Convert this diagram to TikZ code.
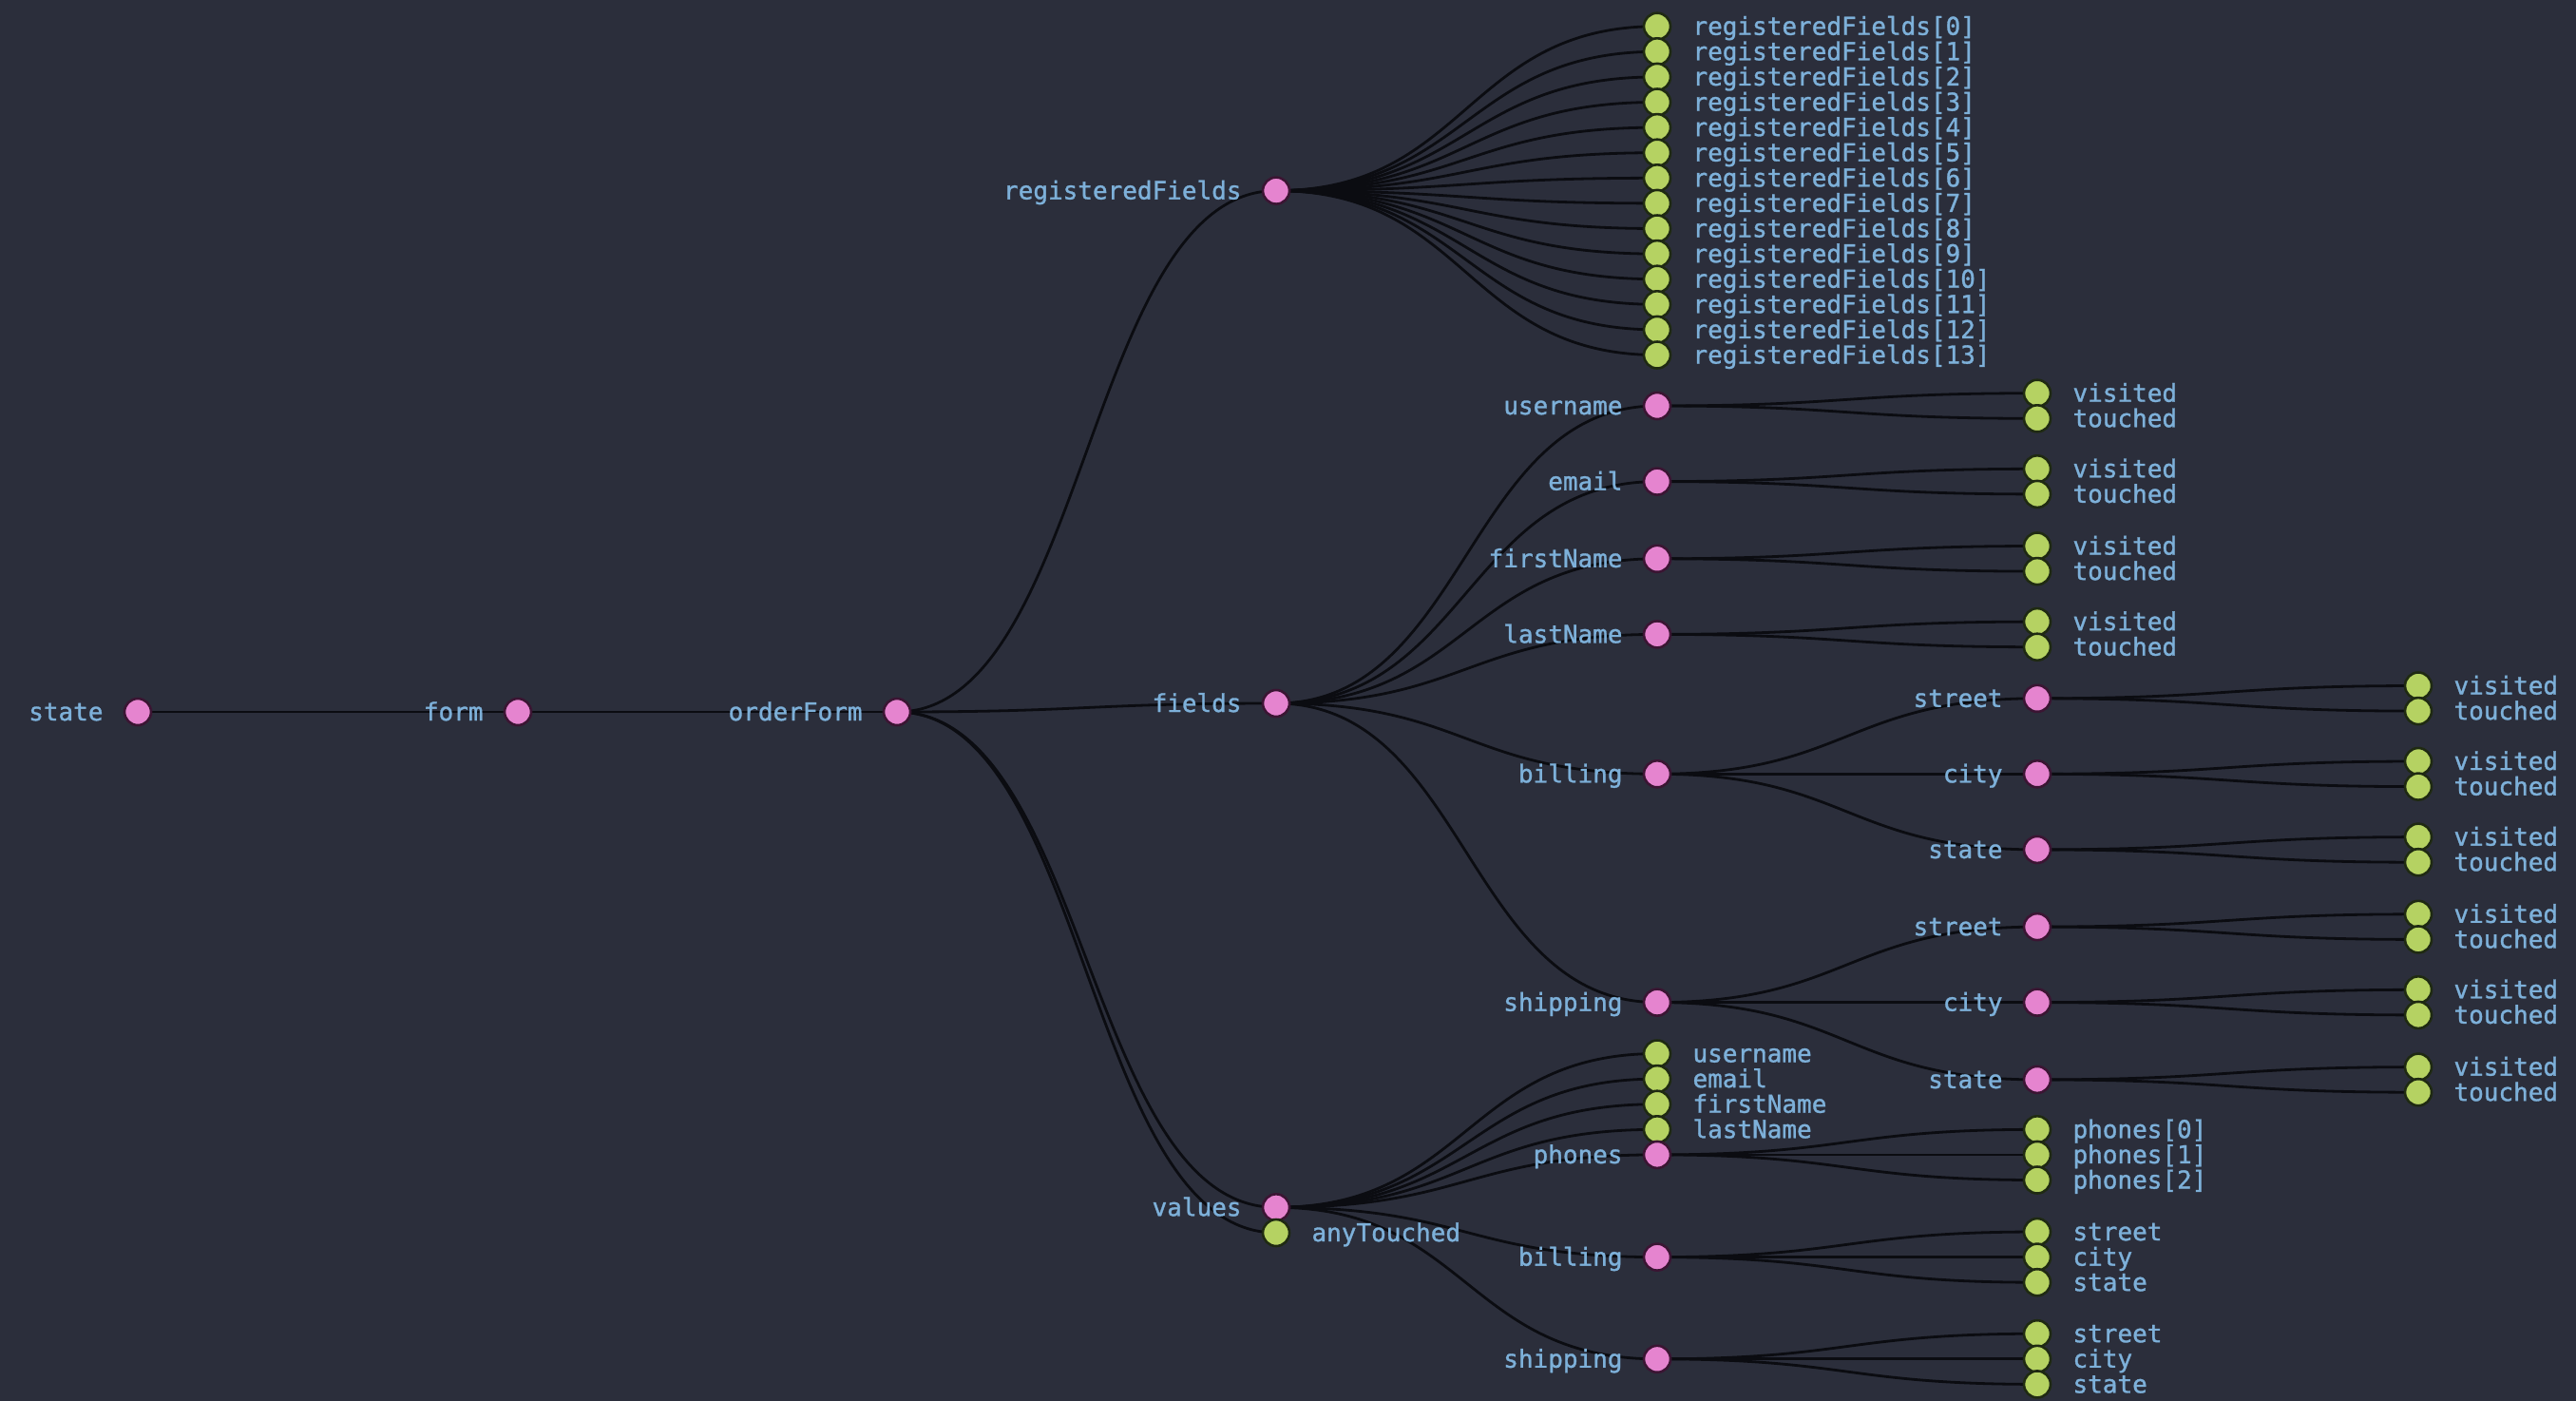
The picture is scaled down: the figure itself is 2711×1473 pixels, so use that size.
\documentclass[tikz,border=0pt]{standalone}
\usepackage{fontspec}
\newfontfamily\lblfont[FakeBold=1.2]{DejaVu Sans Mono}
\usetikzlibrary{calc}
\pgfdeclarelayer{back}
\pgfdeclarelayer{bg}
\pgfsetlayers{back,bg,main}
\definecolor{bgc}{HTML}{2B2E3B}
\definecolor{pinkc}{HTML}{E584CF}
\definecolor{pinkb}{HTML}{3B1533}
\definecolor{greenc}{HTML}{B5D262}
\definecolor{greenb}{HTML}{1F2A12}
\definecolor{txtc}{HTML}{7DB0D9}
\definecolor{edgec}{HTML}{0B0C11}
\tikzset{
  lbl/.style={font=\lblfont\fontsize{26}{30}\selectfont, text=txtc, inner sep=0pt, text height=23pt, text depth=5pt},
  pn/.style={circle, fill=pinkc, draw=pinkb, line width=2.6pt, minimum size=28pt, inner sep=0pt,
     label={[lbl, label distance=21pt]left:{#1}}},
  gn/.style={circle, fill=greenc, draw=greenb, line width=2.6pt, minimum size=28pt, inner sep=0pt,
     label={[lbl, label distance=22pt]right:{#1}}},
  edge/.style={draw=edgec, line width=2.8pt}
}
\newcommand\lnk[2]{\path[edge] let \p1=(#1.center), \p2=(#2.center) in
  (\p1) .. controls ({(\x1+\x2)/2},\y1) and ({(\x1+\x2)/2},\y2) .. (\p2);}
\newcommand\vtpair[3]{%
  \node[gn=visited] (#1v) at (#2,{#3-13.3}) {};
  \node[gn=touched] (#1t) at (#2,{#3+13.3}) {};}
\begin{document}
\begin{tikzpicture}[x=1pt,y=-1pt]
\useasboundingbox (0,0) rectangle (2711,1473);
\begin{pgfonlayer}{back}
\fill[bgc] (-10,-10) rectangle (2721,1483);
\end{pgfonlayer}
% depth 0-2
\node[pn=state] (st) at (145,749) {};
\node[pn=form] (fm) at (545,749) {};
\node[pn=orderForm] (of) at (944,749) {};
% registeredFields
\node[pn=registeredFields] (rf) at (1343,200.6) {};
\foreach \i in {0,...,13}{
  \node[gn={registeredFields[\i]}] (rf\i) at (1744,{27.7+26.6*\i}) {};
}
% fields
\node[pn=fields] (fd) at (1343,740) {};
\node[pn=username] (fu) at (1744,427) {};
\vtpair{fu}{2144}{427}
\node[pn=email] (fe) at (1744,506.6) {};
\vtpair{fe}{2144}{506.6}
\node[pn=firstName] (ff) at (1744,587.8) {};
\vtpair{ff}{2144}{587.8}
\node[pn=lastName] (fl) at (1744,667.4) {};
\vtpair{fl}{2144}{667.4}
\node[pn=billing] (fb) at (1744,814.3) {};
\node[pn=street] (fbs) at (2144,734.8) {};
\vtpair{fbs}{2545}{734.8}
\node[pn=city] (fbc) at (2144,814.3) {};
\vtpair{fbc}{2545}{814.3}
\node[pn=state] (fbx) at (2144,893.9) {};
\vtpair{fbx}{2545}{893.9}
\node[pn=shipping] (fs) at (1744,1054.6) {};
\node[pn=street] (fss) at (2144,975.1) {};
\vtpair{fss}{2545}{975.1}
\node[pn=city] (fsc) at (2144,1054.6) {};
\vtpair{fsc}{2545}{1054.6}
\node[pn=state] (fsx) at (2144,1135.9) {};
\vtpair{fsx}{2545}{1135.9}
% values
\node[pn=values] (va) at (1343,1270.3) {};
\node[gn=anyTouched] (at) at (1343,1297) {};
\node[gn=username] (vu) at (1744,1108.5) {};
\node[gn=email] (ve) at (1744,1135.1) {};
\node[gn=firstName] (vf) at (1744,1161.7) {};
\node[gn=lastName] (vl) at (1744,1188.3) {};
\node[pn=phones] (vp) at (1744,1214.9) {};
\node[gn={phones[0]}] (vp0) at (2144,1188.3) {};
\node[gn={phones[1]}] (vp1) at (2144,1214.9) {};
\node[gn={phones[2]}] (vp2) at (2144,1241.5) {};
\node[pn=billing] (vb) at (1744,1322.6) {};
\node[gn=street] (vbs) at (2144,1296) {};
\node[gn=city] (vbc) at (2144,1322.6) {};
\node[gn=state] (vbx) at (2144,1349.2) {};
\node[pn=shipping] (vs) at (1744,1429.8) {};
\node[gn=street] (vss) at (2144,1403.2) {};
\node[gn=city] (vsc) at (2144,1429.8) {};
\node[gn=state] (vsx) at (2144,1456.4) {};
% edges
\begin{pgfonlayer}{bg}
\lnk{st}{fm}\lnk{fm}{of}
\lnk{of}{rf}\lnk{of}{fd}\lnk{of}{va}\lnk{of}{at}
\foreach \i in {0,...,13}{\lnk{rf}{rf\i}}
\foreach \c in {fu,fe,ff,fl,fb,fs}{\lnk{fd}{\c}}
\foreach \c in {fu,fe,ff,fl,fbs,fbc,fbx,fss,fsc,fsx}{\lnk{\c}{\c v}\lnk{\c}{\c t}}
\foreach \c in {fbs,fbc,fbx}{\lnk{fb}{\c}}
\foreach \c in {fss,fsc,fsx}{\lnk{fs}{\c}}
\foreach \c in {vu,ve,vf,vl,vp,vb,vs}{\lnk{va}{\c}}
\foreach \c in {vp0,vp1,vp2}{\lnk{vp}{\c}}
\foreach \c in {vbs,vbc,vbx}{\lnk{vb}{\c}}
\foreach \c in {vss,vsc,vsx}{\lnk{vs}{\c}}
\end{pgfonlayer}
\end{tikzpicture}
\end{document}
